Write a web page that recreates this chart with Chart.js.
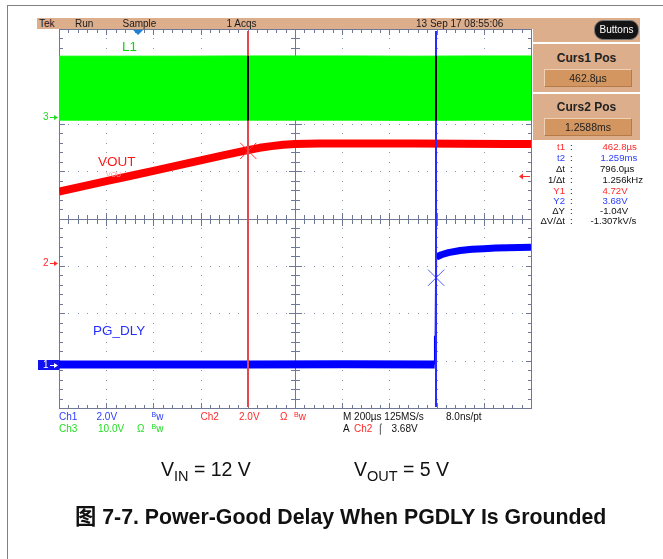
<!DOCTYPE html>
<html><head><meta charset="utf-8">
<script src="https://cdn.jsdelivr.net/npm/chart.js@4.4.1/dist/chart.umd.min.js"></script>
<style>
html,body{margin:0;padding:0;background:#fff;}
body{width:663px;height:559px;overflow:hidden;position:relative;font-family:"Liberation Sans",Arial,sans-serif;}
#c{position:absolute;left:0;top:0;}
.abs{position:absolute;white-space:nowrap;}
.beige{position:absolute;background:#dcae8c;}
.hdr{font-size:10px;line-height:11px;top:18px;color:#1a1a1a;}
.st{font-size:10px;line-height:12px;}
.ro{font-size:9.6px;line-height:11px;}
.lbl{font-size:13.5px;line-height:16px;}
.bw{font-size:10px;}
.bw b{font-weight:normal;font-size:7px;position:relative;top:-3px;}
</style>
</head><body>
<canvas id="c" width="663" height="559"></canvas>
<div class="abs" style="left:7px;top:5px;width:1px;height:560px;background:#808080"></div>
<div class="abs" style="left:7px;top:5px;width:660px;height:1px;background:#808080"></div>

<div class="beige" style="left:37px;top:18px;width:603px;height:11px"></div>
<div class="beige" style="left:533px;top:29px;width:107px;height:13px"></div>
<div class="beige" style="left:533px;top:44px;width:107px;height:48px"></div>
<div class="beige" style="left:533px;top:94px;width:107px;height:46px"></div>
<div id="hdrTexts"></div>
<div class="abs" style="left:594px;top:20px;width:43px;height:18px;border-radius:9px;background:#141414;border:1px solid #777;color:#fff;font-size:10px;line-height:18px;text-align:center">Buttons</div>
<div class="abs" style="left:533px;top:51px;width:107px;text-align:center;font-weight:bold;font-size:12px;color:#222">Curs1 Pos</div>
<div class="abs" style="left:544px;top:69px;width:86px;height:16px;background:#d39660;border:1px solid #b57a48;border-top-color:#efd2b6;border-left-color:#efd2b6;text-align:center;font-size:10.5px;line-height:16px;color:#222" id="c1v"></div>
<div class="abs" style="left:533px;top:100px;width:107px;text-align:center;font-weight:bold;font-size:12px;color:#222">Curs2 Pos</div>
<div class="abs" style="left:544px;top:118px;width:86px;height:16px;background:#d39660;border:1px solid #b57a48;border-top-color:#efd2b6;border-left-color:#efd2b6;text-align:center;font-size:10.5px;line-height:16px;color:#222" id="c2v"></div>
<div id="readout"></div>
<div id="status"></div>

<div class="abs lbl" style="left:122px;top:39px;color:#00dd00">L1</div>
<div class="abs lbl" style="left:98px;top:154px;color:#ff1a1a">VOUT</div>
<div class="abs" style="left:106px;top:171px;color:#ff9a9a;font-size:7px">VOU</div>
<div class="abs lbl" style="left:93px;top:323px;color:#2430ff">PG_DLY</div>

<div class="abs" style="left:161px;top:458px;font-size:19.5px;color:#111">V<span style="font-size:14.5px;position:relative;top:5px">IN</span> = 12 V</div>
<div class="abs" style="left:354px;top:458px;font-size:19.5px;color:#111">V<span style="font-size:14.5px;position:relative;top:5px">OUT</span> = 5 V</div>
<div class="abs" style="left:75px;top:499px;font-size:21.3px;font-weight:bold;color:#111;font-family:'Liberation Sans','Noto Sans CJK SC',sans-serif">图 7-7. Power-Good Delay When PGDLY Is Grounded</div>

<script>
// ---- data (time in µs from left edge of screen, values in volts) ----
const swTime   = [0, 250, 500, 750, 1000, 1250, 1500, 1750, 2000];
const swHigh   = [12.9, 12.9, 12.9, 12.95, 12.95, 12.95, 12.9, 12.95, 12.95];
const swLow    = [-0.6, -0.6, -0.65, -0.6, -0.6, -0.6, -0.65, -0.6, -0.6];

const voutTime = [0, 100, 200, 300, 400, 500, 600, 700, 800, 850, 900, 950, 1000, 1100, 1300, 1500, 1700, 1900, 2000];
const voutV    = [3.00, 3.22, 3.44, 3.66, 3.88, 4.10, 4.32, 4.54, 4.75, 4.85, 4.92, 4.98, 5.01, 5.03, 5.03, 5.03, 5.02, 5.01, 5.01];

const pgLowTime  = [0, 400, 800, 1200, 1592];
const pgLowV     = [0.02, 0.02, 0.02, 0.03, 0.02];
const pgEdgeTime = [1592, 1593, 1596, 1597, 1598, 1600];
const pgEdgeV    = [0.02, 1.2, 1.2, 1.2, 4.5, 4.6];
const pgHighTime = [1599, 1620, 1650, 1700, 1750, 1800, 1850, 1900, 2000];
const pgHighV    = [4.55, 4.65, 4.74, 4.83, 4.88, 4.90, 4.93, 4.95, 4.97];

const cursorTime = [802, 1598];      // cursor 1, cursor 2
const cursorV1   = 4.72;             // Y1 on Ch2
const cursorV2   = 3.68;             // Y2 on Ch1
const trigLevel  = 3.68;             // Ch2 trigger level
const hposTime   = 335;

const hdrLabels = ["Tek", "Run", "Sample", "1 Acqs", "13 Sep 17 08:55:06"];
const cursPos   = ["462.8µs", "1.2588ms"];
const roLabels  = ["t1", "t2", "Δt", "1/Δt", "Y1", "Y2", "ΔY", "ΔV/Δt"];
const roValues  = ["462.8µs", "1.259ms", "796.0µs", "1.256kHz", "4.72V", "3.68V", "-1.04V", "-1.307kV/s"];

// ---- channel settings: volts/div and ground position (divisions from centre) ----
const ch = {
  y1: {vdiv: 2,  gnd: -3.09},
  y2: {vdiv: 2,  gnd: -0.933},
  y3: {vdiv: 10, gnd: 2.136}
};
function axisFor(c){ return {type:'linear', axis:'y', position:'left', display:false, min:(-4 - c.gnd)*c.vdiv, max:(4 - c.gnd)*c.vdiv}; }

// ---- HTML texts ----
const hdrX = [39, 75, 122.5, 226.5, 416];
document.getElementById('hdrTexts').innerHTML = hdrLabels.map((t,i)=>`<div class="abs hdr" style="left:${hdrX[i]}px">${t}</div>`).join('');
document.getElementById('c1v').textContent = cursPos[0];
document.getElementById('c2v').textContent = cursPos[1];
const roY = [141, 152, 163, 174, 184.5, 195, 205, 215];
const roX = [602.5, 600.5, 600, 602.5, 602.5, 602.5, 600, 590.5];
const roC = ['#ff2a2a','#2a3cff','#111','#111','#ff2a2a','#2a3cff','#111','#111'];
document.getElementById('readout').innerHTML = roLabels.map((t,i)=>
  `<div class="abs ro" style="left:520px;width:45px;text-align:right;top:${roY[i]}px;color:${roC[i]}">${t}</div>`+
  `<div class="abs ro" style="left:570px;top:${roY[i]}px;color:#111">:</div>`+
  `<div class="abs ro" style="left:${roX[i]}px;top:${roY[i]}px;color:${roC[i]}">${roValues[i]}</div>`).join('');
const B = '<span class="bw"><b>B</b>w</span>';
const st = [
  [59,411,'#2a3cff','Ch1'],[96.5,411,'#2a3cff','2.0V'],[151.5,411,'#2a3cff',B],
  [200.5,411,'#ff2a2a','Ch2'],[239,411,'#ff2a2a','2.0V'],[280,411,'#ff2a2a','Ω'],[294,411,'#ff2a2a',B],
  [343,411,'#111','M 200µs 125MS/s'],[446,411,'#111','8.0ns/pt'],
  [59,423,'#22dd22','Ch3'],[98,423,'#22dd22','10.0V'],[137,423,'#22dd22','Ω'],[151.5,423,'#22dd22',B],
  [343,423,'#111','A'],[354,423,'#ff2a2a','Ch2'],[377,423,'#111','⌠'],[391.5,423,'#111','3.68V']
];
document.getElementById('status').innerHTML = st.map(s=>`<div class="abs st" style="left:${s[0]}px;top:${s[1]}px;color:${s[2]}">${s[3]}</div>`).join('');

// ---- plugins ----
const GRID = '#8a93ad', AXIS = '#6f7996';
const graticule = {
  id:'graticule',
  beforeDatasetsDraw(chart){
    const {ctx, scales:{x, div}} = chart;
    const L = Math.round(x.getPixelForValue(0)), R = Math.round(x.getPixelForValue(2000));
    const T = Math.round(div.getPixelForValue(4)), Bt = Math.round(div.getPixelForValue(-4));
    const cx = Math.round(x.getPixelForValue(1000)), cy = Math.round(div.getPixelForValue(0));
    ctx.save();
    ctx.fillStyle = GRID;
    for (let d = 1; d < 10; d++) {
      if (d === 5) continue;
      const px = Math.round(x.getPixelForValue(d*200));
      for (let m = 1; m < 40; m++) ctx.fillRect(px, Math.round(div.getPixelForValue(4 - m*0.2)), 1, 1);
    }
    for (let d = -3; d <= 3; d++) {
      if (d === 0) continue;
      const py = Math.round(div.getPixelForValue(d));
      for (let m = 1; m < 50; m++) ctx.fillRect(Math.round(x.getPixelForValue(m*40)), py, 1, 1);
    }
    ctx.fillStyle = AXIS;
    ctx.fillRect(L, T, R-L+1, 1); ctx.fillRect(L, Bt, R-L+1, 1);
    ctx.fillRect(L, T, 1, Bt-T+1); ctx.fillRect(R, T, 1, Bt-T+1);
    ctx.fillRect(L, cy, R-L, 1); ctx.fillRect(cx, T, 1, Bt-T);
    for (let m = 1; m < 50; m++) {
      const px = Math.round(x.getPixelForValue(m*40));
      const major = m % 5 === 0;
      ctx.fillRect(px, T, 1, major ? 6 : 4);
      ctx.fillRect(px, Bt - (major ? 5 : 3), 1, major ? 6 : 4);
      ctx.fillRect(px, cy - (major ? 6 : 4), 1, major ? 13 : 9);
    }
    for (let m = 1; m < 40; m++) {
      const py = Math.round(div.getPixelForValue(4 - m*0.2));
      const major = m % 5 === 0;
      ctx.fillRect(L, py, major ? 6 : 4, 1);
      ctx.fillRect(R - (major ? 5 : 3), py, major ? 6 : 4, 1);
      ctx.fillRect(cx - (major ? 6 : 4), py, major ? 13 : 9, 1);
    }
    const hx = x.getPixelForValue(hposTime);
    ctx.fillStyle = '#1e7fd6';
    ctx.beginPath(); ctx.moveTo(hx-5, T+1); ctx.lineTo(hx+5, T+1); ctx.lineTo(hx, T+6); ctx.closePath(); ctx.fill();
    ctx.restore();
  },
  afterDatasetsDraw(chart){
    const {ctx, scales:{x, div, y1, y2, y3}} = chart;
    const T = div.getPixelForValue(4), Bt = div.getPixelForValue(-4);
    const gTop = y3.getPixelForValue(Math.max(...swHigh)), gBot = y3.getPixelForValue(Math.min(...swLow));
    ctx.save();
    const cols = ['#e6474c', '#2a2aff'];
    cursorTime.forEach((t,i)=>{
      const px = Math.round(x.getPixelForValue(t)) - 1;
      ctx.fillStyle = cols[i];
      ctx.fillRect(px, T+2, 2, Bt-T-3);
      ctx.fillStyle = '#000';
      ctx.fillRect(px, gTop, 2, gBot-gTop);
    });
    const mk = (yPix, color, label, boxed) => {
      ctx.font = '10px "Liberation Sans", Arial, sans-serif';
      ctx.textBaseline = 'middle';
      if (boxed) { ctx.fillStyle = color; ctx.fillRect(38, yPix-5, 21, 10); color = '#fff'; }
      ctx.fillStyle = color; ctx.strokeStyle = color; ctx.lineWidth = 1;
      ctx.fillText(label, 43, yPix+0.5);
      ctx.beginPath(); ctx.moveTo(50, yPix+0.5); ctx.lineTo(57, yPix+0.5); ctx.stroke();
      ctx.beginPath(); ctx.moveTo(58, yPix+0.5); ctx.lineTo(54, yPix-2); ctx.lineTo(54, yPix+3); ctx.closePath(); ctx.fill();
    };
    mk(Math.round(y3.getPixelForValue(0)), '#22dd22', '3', false);
    mk(Math.round(y2.getPixelForValue(0)), '#ff2a2a', '2', false);
    mk(Math.round(y1.getPixelForValue(0)), '#1010f0', '1', true);
    const ty = Math.round(y2.getPixelForValue(trigLevel)) + 0.5;
    const rx = x.getPixelForValue(2000);
    ctx.strokeStyle = '#ff2a2a'; ctx.fillStyle = '#ff2a2a';
    ctx.beginPath(); ctx.moveTo(rx-10, ty); ctx.lineTo(rx-1, ty); ctx.stroke();
    ctx.beginPath(); ctx.moveTo(rx-12, ty); ctx.lineTo(rx-8, ty-3); ctx.lineTo(rx-8, ty+3); ctx.closePath(); ctx.fill();
    ctx.restore();
  }
};

const pts = (ts, vs) => ts.map((t,i)=>({x:t, y:vs[i]}));
const lineDs = (label, data, axis, color, w, order, extra) => Object.assign({
  label, data, yAxisID:axis, borderColor:color, backgroundColor:color, borderWidth:w,
  pointRadius:0, fill:false, tension:0, order, clip:0, borderJoinStyle:'round'
}, extra||{});

new Chart(document.getElementById('c'), {
  type:'line',
  data:{datasets:[
    lineDs('L1 high', pts(swTime, swHigh), 'y3', '#00ff00', 1, 6),
    lineDs('L1 low',  pts(swTime, swLow),  'y3', '#00ff00', 1, 5, {fill:'-1'}),
    lineDs('VOUT', pts(voutTime, voutV), 'y2', '#ff0000', 8, 3),
    lineDs('PG_DLY low',  pts(pgLowTime, pgLowV), 'y1', '#0000ff', 8, 2),
    lineDs('PG_DLY edge', pts(pgEdgeTime, pgEdgeV), 'y1', '#0000ff', 2, 2),
    lineDs('PG_DLY high', pts(pgHighTime, pgHighV), 'y1', '#0000ff', 7, 2),
    {label:'Cursor 1', type:'scatter', data:[{x:cursorTime[0], y:cursorV1}], yAxisID:'y2', pointStyle:'crossRot', pointRadius:11.5, borderColor:'#ff3030', borderWidth:1, order:0},
    {label:'Cursor 2', type:'scatter', data:[{x:cursorTime[1], y:cursorV2}], yAxisID:'y1', pointStyle:'crossRot', pointRadius:11.5, borderColor:'#4a5cff', borderWidth:1, order:0}
  ]},
  options:{
    responsive:false, animation:false,
    layout:{padding:{left:59, top:29, right:132, bottom:151}},
    plugins:{legend:{display:false}, tooltip:{enabled:false}, title:{display:false}},
    scales:{
      x:{type:'linear', axis:'x', position:'bottom', display:false, min:0, max:2000},
      div:{type:'linear', axis:'y', position:'left', display:false, min:-4, max:4},
      y1:axisFor(ch.y1), y2:axisFor(ch.y2), y3:axisFor(ch.y3)
    }
  },
  plugins:[graticule]
});
</script>
</body></html>
